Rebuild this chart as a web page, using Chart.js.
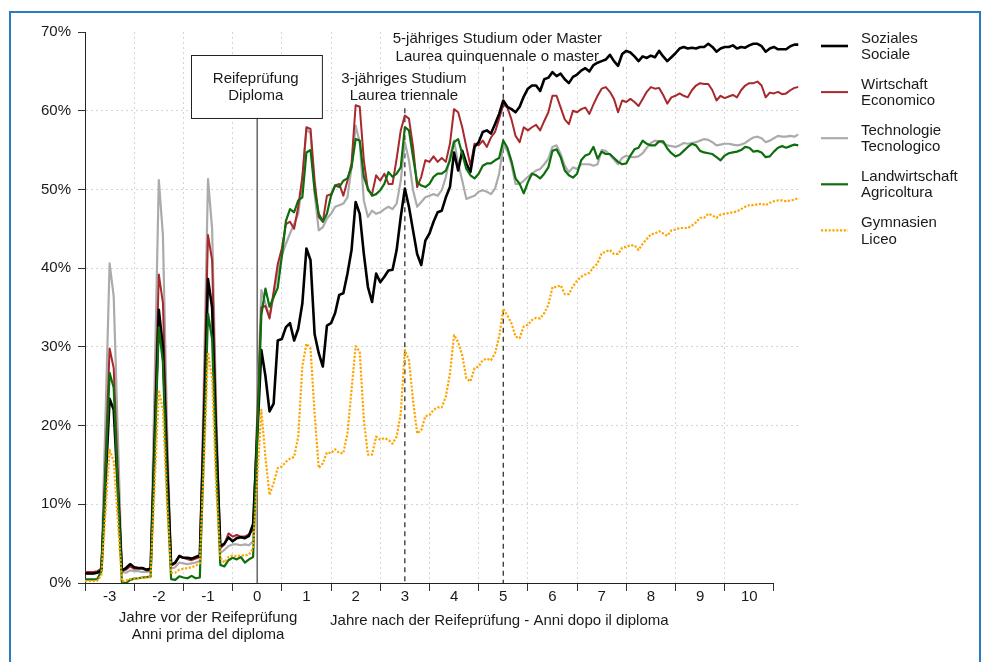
<!DOCTYPE html>
<html>
<head>
<meta charset="utf-8">
<script src="https://cdn.jsdelivr.net/npm/chart.js@4.4.1/dist/chart.umd.min.js"></script>
<style>
html,body{margin:0;padding:0;background:#fff;}
#wrap{position:relative;width:983px;height:662px;overflow:hidden;background:#fff;}
#frame{position:absolute;left:9px;top:11px;width:972px;height:700px;border:2px solid #2a7bc0;box-sizing:border-box;pointer-events:none;}
canvas{position:absolute;left:0;top:0;}
</style>
</head>
<body>
<div id="wrap"><canvas id="c" width="983" height="662"></canvas><div id="frame"></div></div>
<script>
// Months relative to the diploma (Reifeprüfung), from -42 to +132
const MONTH_OFFSETS = Array.from({length: 175}, (_, i) => i - 42);
// axis tick marks sit between the year labels
const X_TICKS = [-3.5,-2.5,-1.5,-0.5,0.5,1.5,2.5,3.5,4.5,5.5,6.5,7.5,8.5,9.5,10.5];
const Y_TICKS = [0,10,20,30,40,50,60,70];

const SERIES_LABELS = [
  ['Soziales','Sociale'],
  ['Wirtschaft','Economico'],
  ['Technologie','Tecnologico'],
  ['Landwirtschaft','Agricoltura'],
  ['Gymnasien','Liceo']
];

// values in %, month -42 ... -1, 0 (none), 1 ... 132
const soziales = [
  1.2,1.2,1.2,1.3,1.6,12.5,
  23.4,22.0,12.0,1.6,1.9,2.4,2.0,1.9,1.9,1.7,1.8,18.0,
  34.7,30.0,15.0,2.3,2.6,3.4,3.2,3.2,3.1,3.3,3.5,20.0,
  38.6,35.0,18.0,4.7,5.0,5.8,5.3,5.7,5.8,5.7,6.0,7.5,
  null,
  29.6,26.3,21.8,22.8,30.8,31.0,32.5,33.0,30.8,32.3,35.5,42.5,
  41.0,31.6,29.2,27.5,32.7,33.0,34.3,36.6,36.8,39.3,42.3,48.4,
  46.9,41.8,37.6,35.7,39.3,38.2,38.9,39.7,39.8,42.3,46.5,50.1,
  47.8,44.8,41.8,40.4,43.5,44.4,45.9,47.1,47.3,49.0,50.3,54.7,
  52.4,54.9,53.3,52.2,55.4,56.0,57.3,57.5,57.1,58.3,59.6,61.3,
  60.5,60.2,59.8,60.5,61.8,62.8,63.2,63.2,62.5,64.0,64.2,64.9,
  64.4,64.7,64.0,63.5,64.3,64.6,65.1,65.4,65.0,65.8,66.1,66.3,
  66.5,67.1,66.3,65.7,67.2,67.6,67.4,66.9,66.3,66.9,66.7,67.0,
  66.8,67.6,66.9,66.3,66.8,67.3,67.9,68.1,67.9,68.0,67.9,68.1,
  68.1,68.5,68.1,67.5,67.9,68.1,68.1,68.3,67.9,68.1,68.0,68.3,
  68.5,68.5,68.2,67.5,67.9,68.1,67.8,67.8,67.8,68.2,68.4,68.4
];
const wirtschaft = [
  1.4,1.4,1.4,1.5,1.8,15.5,
  29.8,27.3,14.0,1.5,1.7,2.1,1.8,1.8,1.8,1.6,1.6,20.0,
  39.2,35.6,17.0,2.2,2.5,3.5,3.2,3.0,2.9,3.1,3.3,23.0,
  44.2,41.0,20.0,4.4,4.9,6.3,5.9,6.1,5.9,5.9,6.2,6.8,
  null,
  35.0,35.2,33.6,37.0,40.5,42.5,45.6,45.9,45.0,47.8,51.6,57.9,
  57.7,51.1,46.5,45.9,49.2,49.4,50.5,50.7,49.2,51.1,53.3,60.7,
  60.5,53.7,49.9,49.4,51.8,51.1,52.0,50.7,50.7,53.9,57.5,59.4,
  59.0,55.4,50.3,51.6,53.7,53.5,54.2,53.5,54.0,53.5,55.8,60.2,
  59.8,57.9,55.4,53.0,55.8,55.6,56.2,55.4,56.6,57.3,59.0,60.8,
  60.4,58.9,56.8,56.0,57.9,57.5,57.9,58.2,57.5,58.7,59.8,61.9,
  61.9,60.4,58.9,58.3,60.0,59.8,60.2,60.4,59.6,60.8,61.9,62.8,
  63.0,62.4,61.5,59.8,61.3,61.1,61.5,61.1,60.6,61.5,62.4,63.0,
  62.8,62.9,62.0,60.9,61.7,61.9,62.2,61.9,61.7,62.6,63.2,63.5,
  63.4,63.4,62.6,61.3,61.9,61.6,61.8,62.0,61.7,62.6,63.2,63.5,
  63.5,63.7,63.2,61.7,62.3,62.2,62.4,62.1,62.2,62.6,62.9,63.0
];
const technologie = [
  1.2,1.2,1.2,1.3,2.0,21.0,
  40.6,36.4,19.0,1.4,1.3,1.6,1.5,1.5,1.4,1.4,1.5,26.0,
  51.2,44.2,20.0,1.8,2.0,2.6,2.5,2.4,2.5,2.6,2.8,26.0,
  51.3,45.0,22.0,3.8,4.2,4.7,4.9,4.9,4.8,4.9,4.8,5.3,
  null,
  37.2,35.5,33.8,36.5,39.5,41.6,43.1,44.4,45.6,46.9,51.1,57.7,
  57.1,49.4,44.8,45.2,46.3,46.9,47.8,48.0,48.2,49.0,52.8,58.1,
  56.0,48.6,46.5,47.3,46.9,47.1,47.5,47.8,47.5,48.2,51.1,56.0,
  53.7,49.9,47.8,48.4,49.0,49.2,49.4,49.2,49.9,51.6,54.1,56.2,
  53.3,51.1,48.8,49.0,49.2,49.7,49.9,49.7,49.4,50.1,52.0,55.6,
  54.9,53.2,50.7,50.7,51.1,51.6,52.0,52.4,52.6,53.2,53.9,55.4,
  55.6,54.5,53.0,52.2,52.8,52.6,53.2,53.2,53.2,53.0,53.2,55.0,
  54.9,54.4,53.8,53.2,54.0,54.3,54.1,54.1,54.2,54.6,55.3,55.9,
  56.2,56.1,55.9,55.6,55.5,55.4,55.6,55.9,55.8,55.9,56.0,56.2,
  56.4,56.3,56.0,55.6,55.7,55.8,55.8,55.7,55.6,55.7,55.9,56.3,
  56.6,56.7,56.5,56.0,56.2,56.5,56.8,56.7,56.7,56.8,56.7,57.0
];
const landwirtschaft = [
  0.45,0.45,0.45,0.5,1.5,14.0,
  26.7,24.8,12.0,0.1,0.0,0.4,0.55,0.6,0.7,0.75,0.8,16.5,
  32.5,28.0,12.0,0.5,0.4,0.85,0.7,0.6,0.9,0.6,0.7,17.0,
  34.2,31.0,15.0,2.3,2.1,2.9,3.2,3.0,3.3,2.6,3.0,3.3,
  null,
  34.0,37.4,35.1,36.3,37.5,41.5,46.0,47.5,47.1,48.6,49.0,54.7,
  55.0,49.9,46.9,45.9,46.9,49.2,50.5,50.3,51.1,51.4,52.8,56.4,
  56.2,51.6,50.1,49.2,49.4,49.9,50.7,52.2,51.6,52.0,52.8,57.9,
  57.5,54.1,50.9,50.5,50.3,50.7,51.6,52.0,52.0,52.4,53.7,56.0,
  56.4,54.5,52.6,51.8,51.4,52.0,53.0,53.3,53.3,53.7,54.0,56.2,
  55.3,53.6,51.4,50.7,49.5,50.9,52.0,51.8,51.4,52.0,52.8,54.9,
  55.1,54.1,52.4,51.8,51.5,52.0,53.7,54.3,54.5,55.4,53.9,54.8,
  54.5,54.5,54.0,53.5,53.2,53.3,54.3,55.1,55.3,56.2,55.8,55.6,
  55.6,56.1,56.1,55.2,54.6,54.2,54.4,54.9,55.4,55.8,55.6,54.9,
  54.7,54.6,54.5,54.1,53.7,54.3,54.6,54.7,54.8,55.0,55.4,55.3,
  54.8,54.9,54.7,54.1,54.2,54.8,55.3,55.5,55.3,55.5,55.7,55.6
];
const gymnasien = [
  0.25,0.25,0.25,0.3,1.0,9.0,
  16.9,15.5,8.0,0.2,0.3,0.5,0.55,0.6,0.65,0.7,0.75,12.5,
  24.5,22.0,10.0,1.3,1.3,1.7,1.8,1.9,2.0,2.2,2.5,15.0,
  29.3,26.0,12.0,3.2,2.6,3.3,3.5,3.4,3.5,3.5,3.6,4.4,
  null,
  22.0,16.0,11.2,12.7,14.6,14.8,15.4,15.8,16.0,18.6,27.5,30.4,
  29.8,21.5,14.6,15.2,16.6,16.5,17.0,16.5,16.5,19.0,24.5,30.1,
  29.4,20.7,16.3,16.3,18.6,18.2,18.4,18.2,17.7,18.6,21.5,29.6,
  28.3,23.2,19.0,19.4,21.2,21.3,22.0,22.3,22.3,23.7,26.6,31.5,
  30.6,28.9,26.0,25.6,27.3,27.5,28.3,28.5,28.3,29.2,31.3,34.8,
  34.0,33.0,31.3,31.1,32.6,32.8,33.4,33.7,33.6,34.3,35.3,37.6,
  37.6,37.8,36.7,36.7,37.7,38.4,38.9,39.2,39.4,40.1,40.6,41.9,
  42.1,42.3,41.8,41.8,42.6,42.7,42.9,42.9,42.3,43.1,43.7,44.3,
  44.4,44.7,44.4,44.1,44.8,44.9,45.1,45.1,45.1,45.4,45.8,46.4,
  46.4,46.9,46.7,46.4,46.8,46.9,47.0,47.1,47.2,47.5,47.8,48.0,
  48.0,48.1,48.2,48.0,48.3,48.5,48.6,48.6,48.5,48.6,48.7,48.9
];

const FONT = '"Liberation Sans", Arial, Helvetica, sans-serif';
const FS = 15;
const TEXT = '#1a1a1a';
Chart.defaults.font.family = FONT;
Chart.defaults.font.size = FS;
Chart.defaults.color = TEXT;

const toPoints = arr => MONTH_OFFSETS.map((m, i) => ({x: m / 12, y: arr[i]}));

const styles = [
  {color:'#000000', width:2.6, dash:[], order:2},
  {color:'#a8282c', width:2, dash:[], order:3},
  {color:'#ababab', width:2.2, dash:[], order:4},
  {color:'#0d6e0d', width:2.2, dash:[], order:1},
  {color:'#ffa500', width:2.2, dash:[2.2,1.6], order:0}
];
const seriesValues = [soziales, wirtschaft, technologie, landwirtschaft, gymnasien];

const datasets = seriesValues.map((vals, i) => ({
  label: SERIES_LABELS[i].join(' '),
  data: toPoints(vals),
  borderColor: styles[i].color,
  borderWidth: styles[i].width,
  borderDash: styles[i].dash,
  borderJoinStyle: 'round',
  pointRadius: 0,
  tension: 0,
  fill: false,
  spanGaps: true,
  order: styles[i].order
}));

const GRID = '#d6d6d6';

const annot = {
  id: 'annot',
  beforeDatasetsDraw(chart) {
    const {ctx, scales:{x, y}} = chart;
    ctx.save();
    // diploma line
    ctx.strokeStyle = '#6e6e6e'; ctx.lineWidth = 1.6; ctx.setLineDash([]);
    ctx.beginPath(); ctx.moveTo(x.getPixelForValue(0), y.getPixelForValue(59.1)); ctx.lineTo(x.getPixelForValue(0), y.getPixelForValue(0)); ctx.stroke();
    // dashed study lines
    ctx.strokeStyle = '#222'; ctx.lineWidth = 1.2; ctx.setLineDash([5,4]);
    ctx.beginPath(); ctx.moveTo(x.getPixelForValue(3), y.getPixelForValue(60.3)); ctx.lineTo(x.getPixelForValue(3), y.getPixelForValue(0)); ctx.stroke();
    ctx.beginPath(); ctx.moveTo(x.getPixelForValue(5), y.getPixelForValue(65.6)); ctx.lineTo(x.getPixelForValue(5), y.getPixelForValue(0)); ctx.stroke();
    ctx.setLineDash([]);
    ctx.fillStyle = TEXT; ctx.font = FS + 'px ' + FONT; ctx.textAlign = 'center'; ctx.textBaseline = 'middle';
    ctx.fillText('3-jähriges Studium', x.getPixelForValue(2.98), y.getPixelForValue(64.0));
    ctx.fillText('Laurea triennale', x.getPixelForValue(2.98), y.getPixelForValue(61.85));
    ctx.fillText('5-jähriges Studium oder Master', x.getPixelForValue(4.88), y.getPixelForValue(69.1));
    ctx.fillText('Laurea quinquennale o master', x.getPixelForValue(4.88), y.getPixelForValue(66.9));
    ctx.restore();
  },
  afterDatasetsDraw(chart) {
    const {ctx, chartArea, scales:{x, y}} = chart;
    ctx.save();
    // Reifeprüfung box
    const bx1 = x.getPixelForValue(-1.34), bx2 = x.getPixelForValue(1.32);
    const by1 = y.getPixelForValue(67.1), by2 = y.getPixelForValue(59.1);
    ctx.fillStyle = '#fff'; ctx.fillRect(bx1, by1, bx2 - bx1, by2 - by1);
    ctx.strokeStyle = '#222'; ctx.lineWidth = 1; ctx.strokeRect(Math.round(bx1)+0.5, Math.round(by1)+0.5, bx2 - bx1, by2 - by1);
    ctx.fillStyle = TEXT; ctx.font = FS + 'px ' + FONT; ctx.textAlign = 'center'; ctx.textBaseline = 'middle';
    ctx.fillText('Reifeprüfung', x.getPixelForValue(-0.03), y.getPixelForValue(64.0));
    ctx.fillText('Diploma', x.getPixelForValue(-0.03), y.getPixelForValue(61.85));
    // x axis line (ends at last tick mark)
    ctx.strokeStyle = '#222'; ctx.lineWidth = 1;
    const yb = Math.round(y.getPixelForValue(0)) + 0.5;
    ctx.beginPath(); ctx.moveTo(x.getPixelForValue(-3.5), yb); ctx.lineTo(x.getPixelForValue(10.5), yb); ctx.stroke();
    // axis captions
    const b = chartArea.bottom;
    ctx.fillText('Jahre vor der Reifeprüfung', x.getPixelForValue(-1.0), b + 35);
    ctx.fillText('Anni prima del diploma', x.getPixelForValue(-1.0), b + 52);
    ctx.fillText('Jahre nach der Reifeprüfung - Anni dopo il diploma', x.getPixelForValue(4.92), b + 38);
    // legend
    const lx1 = 821, lx2 = 848, tx = 861;
    chart.data.datasets.forEach((ds, i) => {
      const cy = 46 + i * 46.1;
      ctx.strokeStyle = ds.borderColor; ctx.lineWidth = ds.borderWidth; ctx.setLineDash(ds.borderDash || []);
      ctx.beginPath(); ctx.moveTo(lx1, cy); ctx.lineTo(lx2, cy); ctx.stroke();
      ctx.setLineDash([]);
      ctx.fillStyle = TEXT; ctx.textAlign = 'left';
      ctx.fillText(SERIES_LABELS[i][0], tx, cy - 7.5);
      ctx.fillText(SERIES_LABELS[i][1], tx, cy + 9);
    });
    ctx.restore();
  }
};

new Chart(document.getElementById('c'), {
  type: 'line',
  data: { datasets },
  options: {
    responsive: false,
    animation: false,
    events: [],
    layout: { padding: { left: 0, right: 184.5, top: 32, bottom: 0 } },
    plugins: { legend: { display: false }, tooltip: { enabled: false }, title: { display: false } },
    scales: {
      x: {
        type: 'linear', min: -3.5, max: 11,
        afterBuildTicks: ax => { ax.ticks = X_TICKS.map(v => ({value: v})); },
        afterFit: s => { s.height = 79; },
        ticks: {
          autoSkip: false, maxRotation: 0, minRotation: 0, labelOffset: 24.6, padding: -3,
          color: TEXT, font: { size: FS },
          callback: v => (v < 10.5 ? String(Math.round(v + 0.5)) : '')
        },
        grid: {
          color: c => (c.tick && (c.tick.value === -3.5 || c.tick.value === 10.5)) ? 'rgba(0,0,0,0)' : GRID,
          lineWidth: 1, tickColor: '#333', tickLength: 8, borderDash: [2,3]
        },
        border: { display: false, dash: [2,3] }
      },
      y: {
        type: 'linear', min: 0, max: 70,
        afterBuildTicks: ax => { ax.ticks = Y_TICKS.map(v => ({value: v})); },
        afterFit: s => { s.width = 85; },
        ticks: { padding: 7, color: TEXT, font: { size: FS }, callback: v => v + '%' },
        grid: {
          color: c => (c.tick && (c.tick.value === 0 || c.tick.value === 70)) ? 'rgba(0,0,0,0)' : GRID,
          lineWidth: 1, tickColor: '#333', tickLength: 7, borderDash: [2,3]
        },
        border: { display: true, color: '#222', width: 1, dash: [2,3] }
      }
    }
  },
  plugins: [annot]
});
</script>
</body>
</html>
